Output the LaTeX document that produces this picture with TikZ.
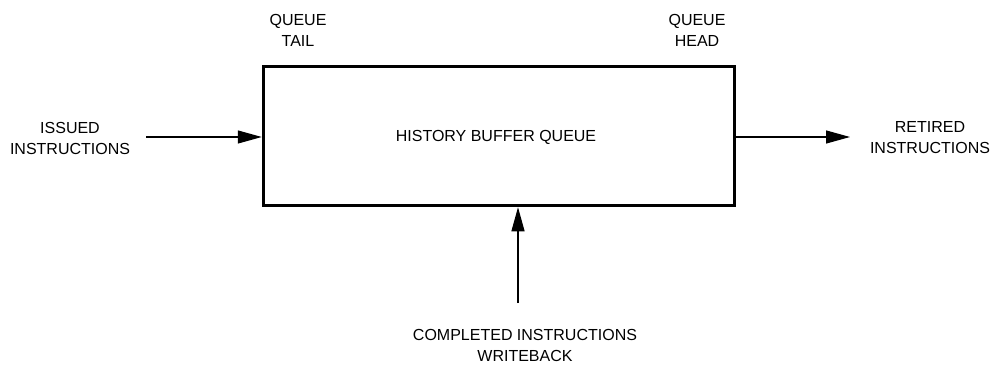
\documentclass[tikz,border=0pt]{standalone}
\usepackage{fontspec}
\setmainfont{Liberation Sans}
\usetikzlibrary{arrows.meta}
\begin{document}
\begin{tikzpicture}[x=1pt, y=-1pt,
  lbl/.style = {align=center, font=\fontsize{16}{21}\selectfont, inner sep=0pt},
  queue/.style = {draw, line width=3.5pt, minimum width=471pt, minimum height=139pt, inner sep=0pt},
  arr/.style = {line width=1.2pt, -{Triangle[length=24pt, width=13pt]}}]
\useasboundingbox (0,0) rectangle (993,366);
\node[queue] (buf) at (499,136) {};
\node[lbl] (hist) at (496,137) {HISTORY BUFFER QUEUE};
\node[lbl] (tail) at (298,30) {QUEUE\\TAIL};
\node[lbl] (head) at (697,30) {QUEUE\\HEAD};
\node[lbl] (issued) at (70,138) {ISSUED\\INSTRUCTIONS};
\node[lbl] (retired) at (930,138) {RETIRED\\INSTRUCTIONS};
\node[lbl] (wback) at (525,345) {COMPLETED INSTRUCTIONS\\WRITEBACK};
\coordinate (inL) at (146,137);
\coordinate (outR) at (850,137);
\coordinate (inB) at (518,303);
\draw[arr] (inL) -- (inL -| buf.west);
\draw[arr] (outR -| buf.east) -- (outR);
\draw[arr] (inB) -- (inB |- buf.south);
\end{tikzpicture}
\end{document}
